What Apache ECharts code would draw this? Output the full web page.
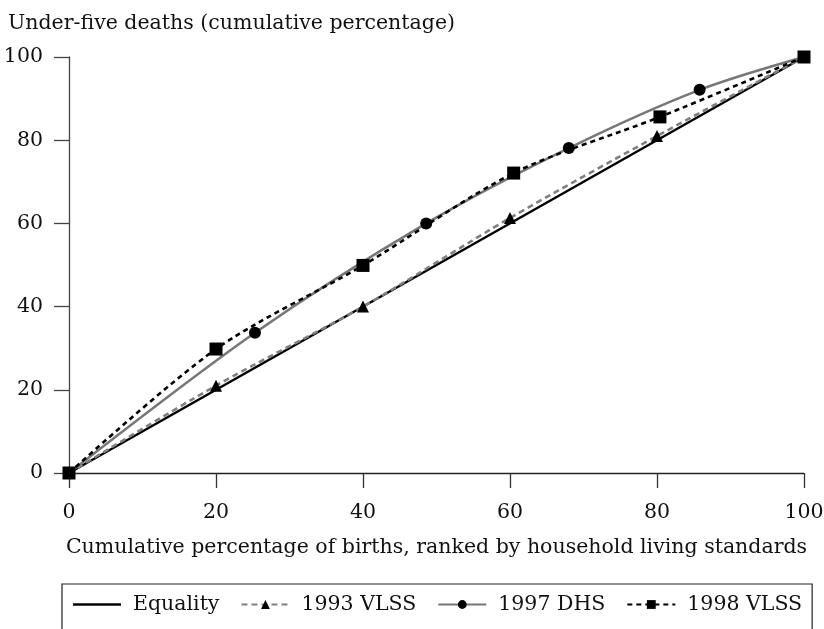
<!DOCTYPE html>
<html>
<head>
<meta charset="utf-8">
<script src="https://cdn.jsdelivr.net/npm/echarts@6/dist/echarts.min.js"></script>
<style>
  html, body { margin: 0; padding: 0; background: #fff; }
  #main { width: 824px; height: 629px; }
</style>
</head>
<body>
<div id="main"></div>
<script>
// data (x = cumulative % of births, y = cumulative % of deaths)
const equality = [[0, 0], [100, 100]];
const vlss1993 = [[0, 0], [20, 21], [40, 40], [60, 61.3], [80, 81], [100, 100]];
const dhs1997 = [[0, 0], [25.3, 33.7], [48.6, 60], [68, 78.1], [85.8, 92.1], [100, 100]];
const vlss1998 = [[0, 0], [20, 29.8], [40, 49.9], [60.5, 72.1], [80.4, 85.6], [100, 100]];
const xTicks = [0, 20, 40, 60, 80, 100];
const yTicks = [0, 20, 40, 60, 80, 100];

const font = 'DejaVu Serif';
const fs = 20.5;
const chart = echarts.init(document.getElementById('main'));

const option = {
  animation: false,
  textStyle: { fontFamily: font, color: '#111' },
  title: {
    text: 'Under-five deaths (cumulative percentage)',
    left: 3, top: 8,
    textStyle: { fontFamily: font, fontSize: fs, fontWeight: 'normal', color: '#111' }
  },
  grid: { left: 69, right: 20, top: 57, bottom: 156, outerBoundsMode: 'none' },
  legend: {
    left: 62, top: 584, width: 732,
    data: [
      { name: 'Equality', icon: 'path://M0,0 L48,0 L48,2.6 L0,2.6 Z' },
      '1993 VLSS', '1997 DHS', '1998 VLSS'
    ],
    itemWidth: 48, itemHeight: 11, itemGap: 21,
    padding: [10, 10, 40, 11],
    borderColor: '#222', borderWidth: 1.2,
    textStyle: { fontFamily: font, fontSize: fs, color: '#111', padding: [0, 0, 0, 7] }
  },
  xAxis: {
    type: 'value', min: 0, max: 100, interval: 20,
    name: 'Cumulative percentage of births, ranked by household living standards',
    nameLocation: 'middle', nameGap: 64,
    nameTextStyle: { fontFamily: font, fontSize: fs, color: '#111' },
    axisLine: { lineStyle: { color: '#222', width: 1.3 } },
    axisTick: { length: 15, lineStyle: { color: '#333', width: 1.3 } },
    axisLabel: {
      margin: 29, fontFamily: font, fontSize: fs, color: '#111',
      formatter: v => xTicks.includes(v) ? String(v) : ''
    },
    splitLine: { show: false }
  },
  yAxis: {
    type: 'value', min: 0, max: 100, interval: 20,
    axisLine: { show: true, lineStyle: { color: '#444', width: 1.3 } },
    axisTick: { show: true, length: 15, lineStyle: { color: '#444', width: 1.3 } },
    axisLabel: {
      margin: 26, fontFamily: font, fontSize: fs, color: '#111',
      formatter: v => yTicks.includes(v) ? String(v) : ''
    },
    splitLine: { show: false }
  },
  series: [
    {
      name: 'Equality', type: 'line', data: equality,
      showSymbol: false, symbol: 'none', z: 2,
      lineStyle: { color: '#000', width: 2.4 },
      itemStyle: { color: '#000' }
    },
    {
      name: '1993 VLSS', type: 'line', data: vlss1993, smooth: 0.3,
      symbol: 'triangle', symbolSize: 12, z: 3,
      lineStyle: { color: '#808080', width: 2.6, type: [6, 4] },
      itemStyle: { color: '#000' }
    },
    {
      name: '1997 DHS', type: 'line', data: dhs1997, smooth: 0.3,
      symbol: 'circle', symbolSize: 12, z: 4,
      lineStyle: { color: '#777', width: 2.6 },
      itemStyle: { color: '#000' }
    },
    {
      name: '1998 VLSS', type: 'line', data: vlss1998, smooth: 0.3,
      symbol: 'rect', symbolSize: 13, z: 5,
      lineStyle: { color: '#000', width: 2.6, type: [5, 4] },
      itemStyle: { color: '#000' }
    }
  ]
};

chart.setOption(option);
</script>
</body>
</html>
